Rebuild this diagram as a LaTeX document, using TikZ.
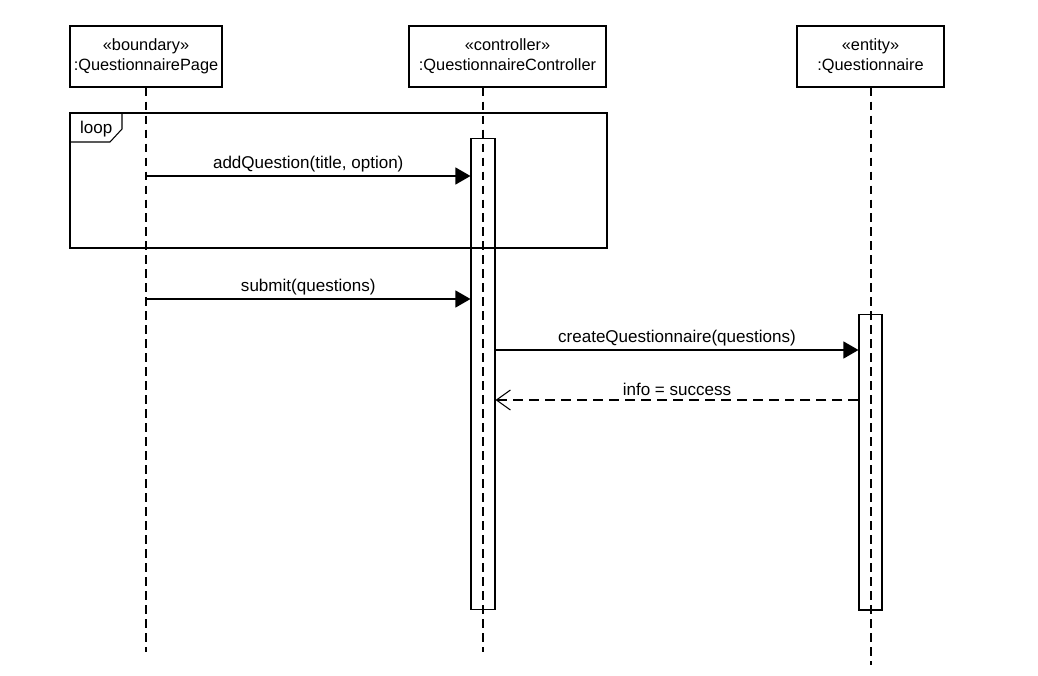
\documentclass[tikz,border=0pt]{standalone}
\usepackage{fontspec}
\setmainfont{Liberation Sans}
\usetikzlibrary{shapes,arrows.meta}

\begin{document}
\begin{tikzpicture}[x=0.02cm, y=-0.02cm]
		\tikzstyle {head} = [draw, line width=0.6pt, minimum width=#1*0.02cm, minimum height=1.22cm, align=center, font=\fontsize{9.3}{11.5}\selectfont, inner sep=0pt]
		\tikzstyle {lifeline} = [line width=0.6pt, dash pattern=on 0.17cm off 0.11cm]
		\tikzstyle {activation} = [draw, fill=white, line width=0.6pt, inner sep=0pt]
		\tikzstyle {call} = [line width=0.6pt, -{Triangle[length=0.3cm, width=0.34cm]}]
		\tikzstyle {reply} = [line width=0.6pt, dash pattern=on 0.2cm off 0.12cm, -{Straight Barb[length=0.28cm, width=0.4cm, line width=0.6pt]}]
		\tikzstyle {msg} = [font=\fontsize{9.7}{11}\selectfont, above, inner sep=2pt]

		\useasboundingbox (0,0) rectangle (1038,676);

		% participants
		\node[head=152] (page) at (146,56.5) {«boundary»\\:QuestionnairePage};
		\node[head=197] (ctrl) at (507.5,56.5) {«controller»\\:QuestionnaireController};
		\node[head=147] (quest) at (870.5,56.5) {«entity»\\:Questionnaire};

		\coordinate (pageEnd) at (146,652);
		\coordinate (ctrlEnd) at (483,652);
		\coordinate (questEnd) at (871,665);

		% activation bars
		\node[activation, minimum width=0.48cm, minimum height=9.44cm] (ctrlAct) at (483,374) {};
		\node[activation, minimum width=0.46cm, minimum height=5.92cm] (questAct) at (870.5,462) {};

		% lifelines
		\draw[lifeline] (page.south -| pageEnd) -- (pageEnd);
		\draw[lifeline] (ctrl.south -| ctrlEnd) -- (ctrlEnd);
		\draw[lifeline] (quest.south -| questEnd) -- (questEnd);

		% loop fragment
		\draw[line width=0.6pt] (70,113) rectangle (607,248);
		\draw[line width=0.6pt] (70,142) -- (110,142) -- (122,129) -- (122,113);
		\node[font=\fontsize{9.7}{11}\selectfont, anchor=west] (loopLbl) at (74,129) {loop};

		% messages
		\coordinate (m1) at (146,176);
		\coordinate (m2) at (146,299);
		\coordinate (m3) at (495,350);
		\coordinate (m4) at (859,400);

		\draw[call] (m1) -- (ctrlAct.west |- m1) node[msg, midway] {addQuestion(title, option)};
		\draw[call] (m2) -- (ctrlAct.west |- m2) node[msg, midway] {submit(questions)};
		\draw[call] (ctrlAct.east |- m3) -- (questAct.west |- m3) node[msg, midway] {createQuestionnaire(questions)};
		\draw[reply] (questAct.west |- m4) -- (ctrlAct.east |- m4) node[msg, midway] {info = success};
\end{tikzpicture}
\end{document}
